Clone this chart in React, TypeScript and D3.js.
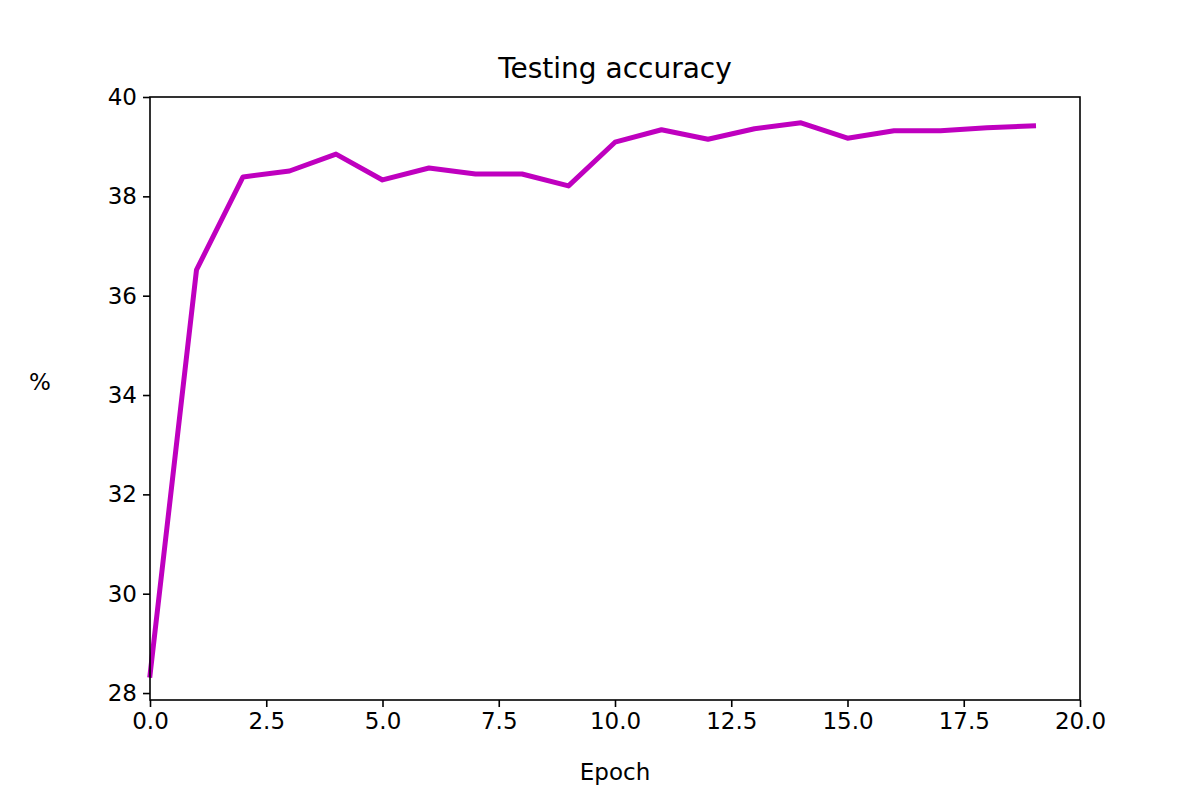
import { useEffect, useRef } from 'react';
import * as d3 from 'd3';

const epochs = [0, 1, 2, 3, 4, 5, 6, 7, 8, 9, 10, 11, 12, 13, 14, 15, 16, 17, 18, 19];
const accuracy = [28.36, 36.52, 38.39, 38.51, 38.85, 38.33, 38.57, 38.45, 38.45, 38.21,
  39.09, 39.34, 39.15, 39.36, 39.48, 39.17, 39.32, 39.32, 39.38, 39.42];
const xTicks = [0, 2.5, 5, 7.5, 10, 12.5, 15, 17.5, 20];
const yTicks = [28, 30, 32, 34, 36, 38, 40];

export default function App() {
  const ref = useRef<SVGSVGElement>(null);

  useEffect(() => {
    if (!ref.current) return;
    const svg = d3.select(ref.current);
    svg.selectAll('*').remove();
    const left = 150, right = 1080, top = 97, bottom = 700;
    const font = 'DejaVu Sans, sans-serif';

    const x = d3.scaleLinear().domain([0, 20]).range([left, right]);
    const y = d3.scaleLinear().domain([27.86, 40]).range([bottom, top]);

    const line = d3.line<number>().x((_, i) => x(epochs[i])).y(d => y(d));
    svg.append('path').datum(accuracy).attr('d', line)
      .attr('fill', 'none').attr('stroke', '#bf00bf').attr('stroke-width', 5)
      .attr('stroke-linejoin', 'round').attr('stroke-linecap', 'square');

    const xa = svg.append('g').attr('transform', `translate(0,${bottom})`)
      .call(d3.axisBottom(x).tickValues(xTicks).tickFormat(d3.format('.1f')).tickSize(7).tickPadding(6));
    const ya = svg.append('g').attr('transform', `translate(${left},0)`)
      .call(d3.axisLeft(y).tickValues(yTicks).tickSize(7).tickPadding(6));
    [xa, ya].forEach(a => {
      a.select('.domain').remove();
      a.selectAll('text').attr('font-family', font).attr('font-size', 23).attr('fill', '#000');
      a.selectAll('line').attr('stroke', '#000').attr('stroke-width', 1.6);
    });

    svg.append('rect').attr('x', left).attr('y', top).attr('width', right - left).attr('height', bottom - top)
      .attr('fill', 'none').attr('stroke', '#000').attr('stroke-width', 1.6);

    svg.append('text').attr('x', (left + right) / 2).attr('y', 78).attr('text-anchor', 'middle')
      .attr('font-family', font).attr('font-size', 28).text('Testing accuracy');
    svg.append('text').attr('x', (left + right) / 2).attr('y', 780).attr('text-anchor', 'middle')
      .attr('font-family', font).attr('font-size', 23).text('Epoch');
    svg.append('text').attr('x', 40).attr('y', 390).attr('text-anchor', 'middle')
      .attr('font-family', font).attr('font-size', 23).text('%');
  }, []);

  return <svg ref={ref} width={1200} height={800} style={{ position: 'absolute', left: 0, top: 0, background: '#fff' }} />;
}
